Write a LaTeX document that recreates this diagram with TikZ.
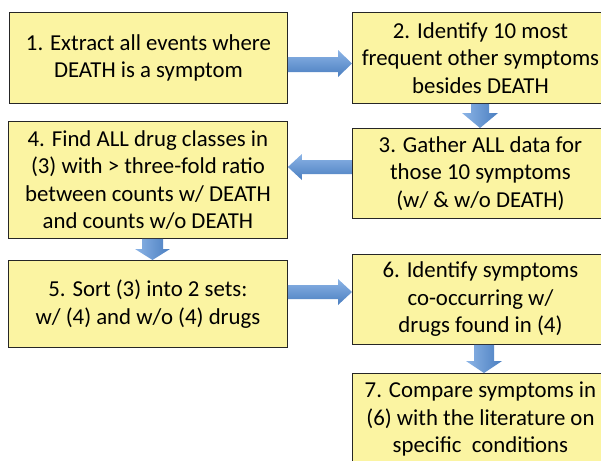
\documentclass[tikz,border=0pt]{standalone}
\usepackage{fontspec}
\setmainfont{Carlito}
\usetikzlibrary{calc}
\definecolor{boxfill}{HTML}{FBF4A2}
\definecolor{arrowtop}{HTML}{8CB4E6}
\definecolor{arrowbot}{HTML}{4A7EC0}
\tikzset{
  stepbox/.style={draw=black!85, line width=0.9pt, fill=boxfill, rectangle, anchor=north west,
    align=center, inner sep=0pt, font=\fontsize{22.8}{27.5}\selectfont},
  harrowfill/.style={top color=arrowtop, bottom color=arrowbot, draw=none},
  varrowfill/.style={left color=arrowtop, right color=arrowbot, draw=none},
}
\begin{document}
\begin{tikzpicture}[x=1pt,y=-1pt]
\useasboundingbox (0,0) rectangle (601,460);
\clip (0,0) rectangle (601,460);
\node[stepbox, minimum width=278pt, minimum height=91pt] (b1) at (9,12)
  {1. Extract all events where\\DEATH is a symptom};
\node[stepbox, minimum width=256pt, minimum height=91pt] (b2) at (352,12)
  {2. Identify 10 most\\frequent other symptoms\\besides DEATH};
\node[stepbox, minimum width=256pt, minimum height=90pt] (b3) at (352,128)
  {3. Gather ALL data for\\those 10 symptoms\\(w/ \& w/o DEATH)};
\node[stepbox, minimum width=279pt, minimum height=117pt] (b4) at (8,121)
  {4. Find ALL drug classes in\\(3) with > three-fold ratio\\between counts w/ DEATH\\and counts w/o DEATH};
\node[stepbox, minimum width=279pt, minimum height=87pt] (b5) at (8,260)
  {5. Sort (3) into 2 sets:\\w/ (4) and w/o (4) drugs};
\node[stepbox, minimum width=256pt, minimum height=90pt] (b6) at (352,254)
  {6. Identify symptoms\\co-occurring w/\\drugs found in (4)};
\node[stepbox, minimum width=256pt, minimum height=92pt] (b7) at (352,373)
  {7. Compare symptoms in\\(6) with the literature on\\specific\ \ conditions};
% right arrow 1 -> 2
\path[harrowfill] let \p1=(b1.east), \p2=(b2.west) in
  (\x1,57) -- (\x2-14,57) -- (\x2-14,50) -- (\x2,63.5) -- (\x2-14,77) -- (\x2-14,72) -- (\x1,72) -- cycle;
% down arrow 2 -> 3
\path[varrowfill] let \p1=(b2.south), \p2=(b3.north) in
  (471,\y1) -- (489,\y1) -- (489,\y2+15) -- (498,\y2+15) -- (480,\y2) -- (462,\y2+15) -- (471,\y2+15) -- cycle;
% left arrow 3 -> 4
\path[harrowfill] let \p1=(b3.west), \p2=(b4.east) in
  (\x1,160) -- (\x2+14,160) -- (\x2+14,154) -- (\x2,167) -- (\x2+14,180) -- (\x2+14,174) -- (\x1,174) -- cycle;
% down arrow 4 -> 5
\path[varrowfill] let \p1=(b4.south), \p2=(b5.north) in
  (142,\y1) -- (163,\y1) -- (163,\y2+11) -- (170,\y2+11) -- (152.5,\y2) -- (135,\y2+11) -- (142,\y2+11) -- cycle;
% right arrow 5 -> 6
\path[harrowfill] let \p1=(b5.east), \p2=(b6.west) in
  (\x1,285) -- (\x2-14,285) -- (\x2-14,279) -- (\x2,292) -- (\x2-14,305) -- (\x2-14,299) -- (\x1,299) -- cycle;
% down arrow 6 -> 7
\path[varrowfill] let \p1=(b6.south), \p2=(b7.north) in
  (474,\y1) -- (494,\y1) -- (494,\y2+12) -- (502,\y2+12) -- (484,\y2) -- (466,\y2+12) -- (474,\y2+12) -- cycle;
\end{tikzpicture}
\end{document}
